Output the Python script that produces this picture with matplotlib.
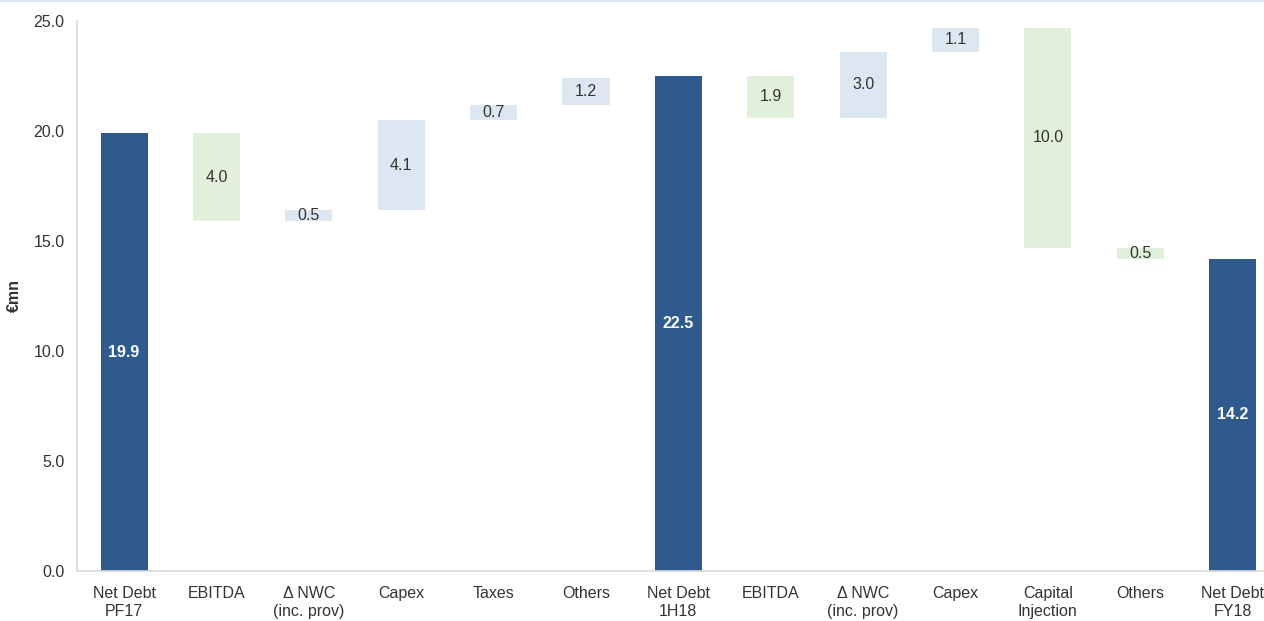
import matplotlib
matplotlib.use('Agg')
import matplotlib.pyplot as plt
from matplotlib.lines import Line2D

# Waterfall data (€mn)
categories = ['Net Debt\nPF17', 'EBITDA', 'Δ NWC\n(inc. prov)', 'Capex', 'Taxes', 'Others',
              'Net Debt\n1H18', 'EBITDA', 'Δ NWC\n(inc. prov)', 'Capex', 'Capital\nInjection',
              'Others', 'Net Debt\nFY18']
values = [19.9, -4.0, 0.5, 4.1, 0.7, 1.2, 22.5, -1.9, 3.0, 1.1, -10.0, -0.5, 14.2]
is_total = [True, False, False, False, False, False, True, False, False, False, False, False, True]
y_ticks = [0.0, 5.0, 10.0, 15.0, 20.0, 25.0]

DARK = '#2E5A8E'
GREEN = '#E2EFDA'
LIGHT = '#DDE7F1'
TXT = '#333333'

plt.rcParams['font.family'] = ['Liberation Sans', 'DejaVu Sans']

fig = plt.figure(figsize=(12.64, 6.21), dpi=100)
ax = fig.add_axes([77 / 1264, 50 / 621, 1 - 77 / 1264, 550 / 621])

level = 0.0
width = 0.51
for i, (v, tot) in enumerate(zip(values, is_total)):
    if tot:
        ax.bar(i, v, width=width, color=DARK, zorder=2)
        ax.text(i, v / 2, f'{v:.1f}', ha='center', va='center', color='white',
                fontsize=11.5, fontweight='bold')
        level = v
    else:
        new = level + v
        lo, hi = min(level, new), max(level, new)
        ax.bar(i, hi - lo, bottom=lo, width=width, color=GREEN if v < 0 else LIGHT, zorder=2)
        ax.text(i, (lo + hi) / 2, f'{abs(v):.1f}', ha='center', va='center', color=TXT,
                fontsize=11.5)
        level = new

ax.set_xlim(-0.51, 12.34)
ax.set_ylim(0, 25)
ax.set_xticks(range(len(categories)))
ax.set_xticklabels(categories, fontsize=11.5, color=TXT, linespacing=1.3)
ax.set_yticks(y_ticks)
ax.set_yticklabels([f'{t:.1f}' for t in y_ticks], fontsize=11.5, color=TXT)
ax.tick_params(axis='y', length=0, pad=9)
ax.tick_params(axis='x', length=0, pad=10.5)
ax.set_ylabel('€mn', fontsize=11.5, fontweight='bold', color=TXT, labelpad=8)

for s in ['top', 'right']:
    ax.spines[s].set_visible(False)
for s in ['left', 'bottom']:
    ax.spines[s].set_color('#D9D9D9')
    ax.spines[s].set_linewidth(1.2)

# thin line along the top edge
fig.add_artist(Line2D([0, 1], [0.999, 0.999], transform=fig.transFigure,
                      color='#DCE6F0', linewidth=1.5))

fig.savefig('out.png', dpi=100)
